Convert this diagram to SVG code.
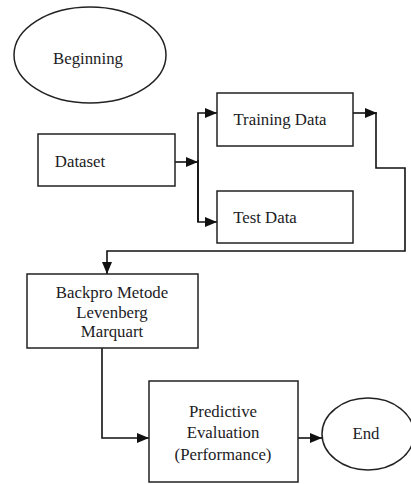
<svg xmlns="http://www.w3.org/2000/svg" width="411" height="484" viewBox="0 0 411 484">
<defs>
<marker id="ah" markerWidth="12" markerHeight="10" refX="12" refY="5" orient="auto" markerUnits="userSpaceOnUse">
<path d="M0,0 L12,5 L0,10 Z" fill="#111"/>
</marker>
<style>
.n{fill:#fff;stroke:#222;stroke-width:1.5}
.t{font-family:'Liberation Serif','Times New Roman',serif;font-size:16.8px;fill:#1c1c24;text-anchor:middle}
.c{fill:none;stroke:#111;stroke-width:1.6}
</style>
</defs>
<rect width="411" height="484" fill="#fff"/>
<g id="connectors">
<path class="c" d="M175,162 H198" marker-end="url(#ah)"/>
<path class="c" d="M198,222 V113 H217" marker-end="url(#ah)"/>
<path class="c" d="M198,160 V222 H217" marker-end="url(#ah)"/>
<path class="c" d="M353,113 H377" marker-end="url(#ah)"/>
<path class="c" d="M376,113 V168 H405 V251 H107 V274" marker-end="url(#ah)"/>
<path class="c" d="M102,348 V438 H149" marker-end="url(#ah)"/>
<path class="c" d="M298,438 H322" marker-end="url(#ah)"/>
</g>
<g id="beginning">
<ellipse class="n" cx="90" cy="55" rx="76" ry="48"/>
<text class="t" x="88" y="64">Beginning</text>
</g>
<g id="dataset">
<rect class="n" x="38" y="134" width="137" height="52"/>
<text class="t" x="80" y="167">Dataset</text>
</g>
<g id="training">
<rect class="n" x="217" y="93" width="136" height="53"/>
<text class="t" x="280" y="125">Training Data</text>
</g>
<g id="test">
<rect class="n" x="217" y="191" width="136" height="52"/>
<text class="t" x="265" y="223">Test Data</text>
</g>
<g id="backpro">
<rect class="n" x="27" y="274" width="171" height="74"/>
<text class="t" x="112" y="298">Backpro Metode</text>
<text class="t" x="112" y="318">Levenberg</text>
<text class="t" x="112" y="337">Marquart</text>
</g>
<g id="predictive">
<rect class="n" x="149" y="381" width="149" height="101"/>
<text class="t" x="223" y="417">Predictive</text>
<text class="t" x="223" y="438">Evaluation</text>
<text class="t" x="223" y="460">(Performance)</text>
</g>
<g id="end">
<ellipse class="n" cx="368" cy="434" rx="46" ry="36"/>
<text class="t" x="366" y="439">End</text>
</g>
</svg>
